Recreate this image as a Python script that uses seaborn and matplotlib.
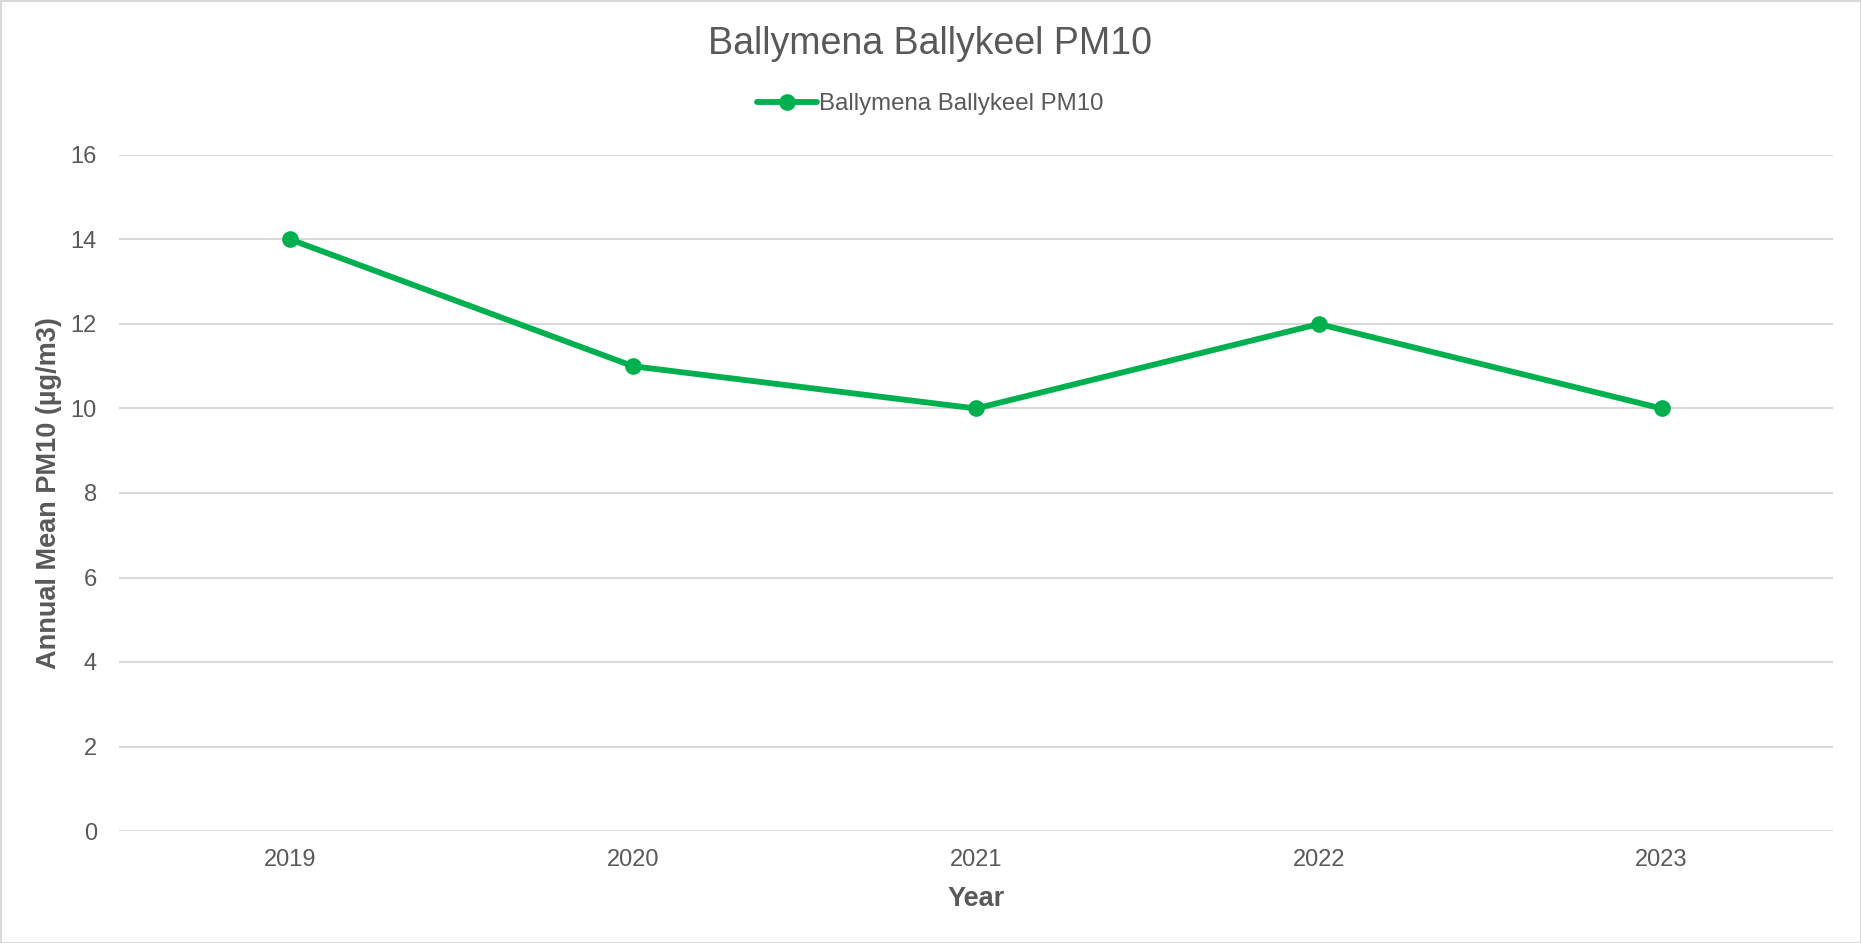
import matplotlib
matplotlib.use("Agg")
import matplotlib.pyplot as plt
import seaborn as sns
import pandas as pd

years = ["2019", "2020", "2021", "2022", "2023"]
pm10 = [14, 11, 10, 12, 10]
series_name = "Ballymena Ballykeel PM10"
y_ticks = [0, 2, 4, 6, 8, 10, 12, 14, 16]

df = pd.DataFrame({"Year": years, "PM10": pm10, "Series": series_name})

sns.set_theme(style="white")
plt.rcParams["font.family"] = ["Liberation Sans", "DejaVu Sans"]

TXT = "#595959"
GREEN = "#00B04F"

fig = plt.figure(figsize=(18.61, 9.43), dpi=100)
fig.patch.set_edgecolor("#D9D9D9")
fig.patch.set_linewidth(2)
ax = fig.add_axes([119/1861, 1-831/943, (1833-119)/1861, (831-155)/943])

sns.lineplot(data=df, x="Year", y="PM10", hue="Series", palette=[GREEN],
             marker="o", markersize=12, markeredgewidth=0, linewidth=4.2,
             ax=ax, legend=True, sort=False)

ax.set_xlim(-0.5, 4.5)
ax.set_ylim(0, 16)
ax.set_yticks(y_ticks)
ax.grid(axis="y", color="#D9D9D9", linewidth=1.5)
ax.set_axisbelow(True)
for s in ax.spines.values():
    s.set_visible(False)
ax.tick_params(axis="both", length=0, labelsize=17, labelcolor=TXT)
ax.tick_params(axis="y", pad=16)
ax.tick_params(axis="x", pad=13)

ax.set_xlabel("Year", fontsize=19.5, fontweight="bold", color=TXT)
ax.set_ylabel("Annual Mean PM10 (µg/m3)", fontsize=19.5, fontweight="bold", color=TXT)
ax.xaxis.set_label_coords(0.5, (831-899)/676)
ax.yaxis.set_label_coords((49-119)/1714, 0.5)
ax.xaxis.label.set_va("center")
ax.yaxis.label.set_va("center")

ax.get_legend().remove()
handles, labels = ax.get_legend_handles_labels()
fig.legend(handles, labels, loc="center", bbox_to_anchor=(0.5, 1-104/943),
           frameon=False, fontsize=17.3, labelcolor=TXT, handlelength=2.5,
           handletextpad=0.1)

fig.text(0.5, 1-44/943, "Ballymena Ballykeel PM10", ha="center", va="center",
         fontsize=27, color=TXT)

fig.savefig("out.png", dpi=100)
